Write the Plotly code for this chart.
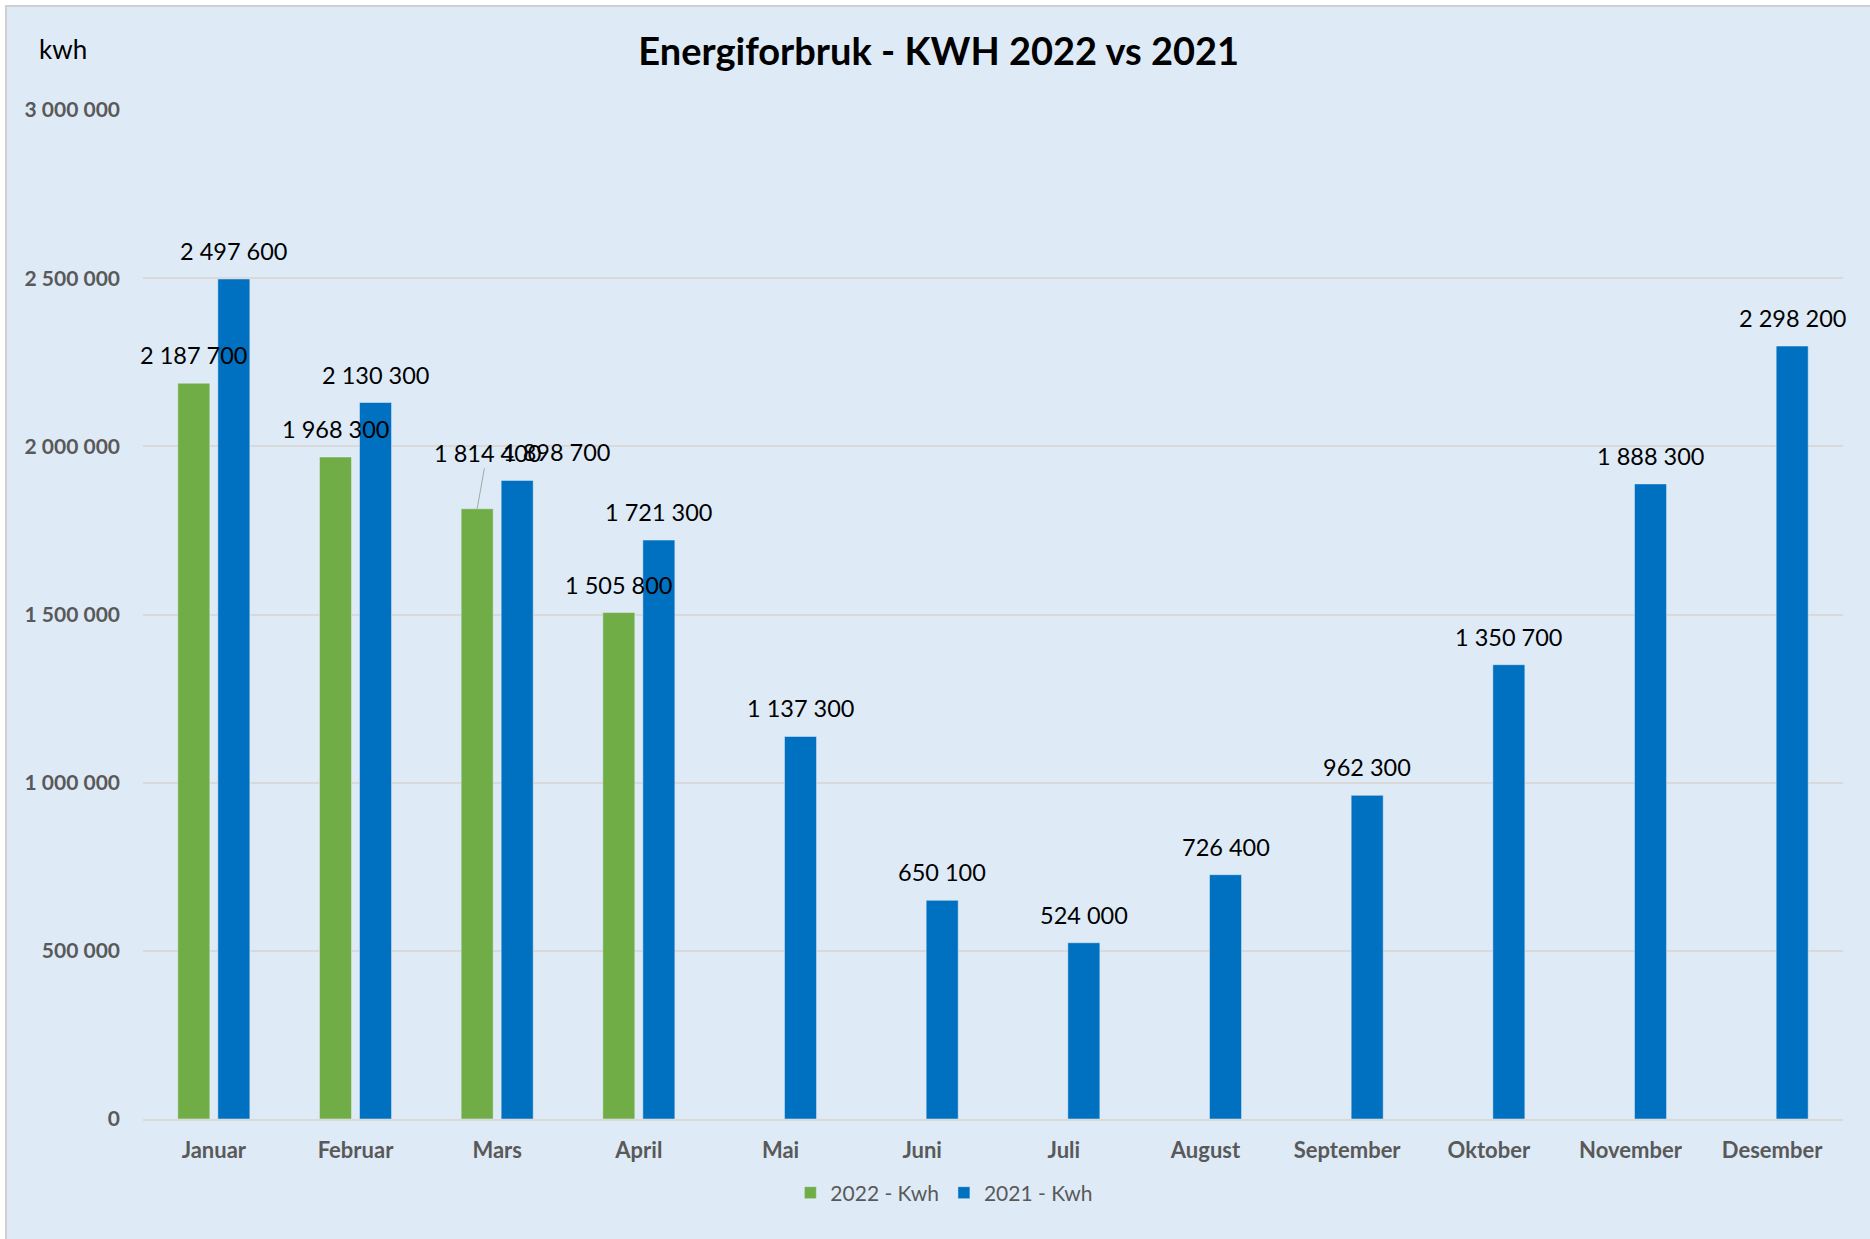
import plotly.graph_objects as go

months = ["Januar", "Februar", "Mars", "April", "Mai", "Juni", "Juli",
          "August", "September", "Oktober", "November", "Desember"]
kwh_2022 = [2187700, 1968300, 1814400, 1505800, None, None, None, None, None, None, None, None]
kwh_2021 = [2497600, 2130300, 1898700, 1721300, 1137300, 650100, 524000,
            726400, 962300, 1350700, 1888300, 2298200]
y_ticks = [0, 500000, 1000000, 1500000, 2000000, 2500000, 3000000]

GREEN = "#70AD47"
BLUE = "#0070C0"
GRAY = "#595959"
BG = "#DEEBF7"
FONT = "Lato"


def fmt(v):
    return f"{v:,}".replace(",", " ")


fig = go.Figure()
fig.add_trace(go.Bar(x=months, y=kwh_2022, name="2022 - Kwh", marker_color=GREEN))
fig.add_trace(go.Bar(x=months, y=kwh_2021, name="2021 - Kwh", marker_color=BLUE))

LBL = dict(family=FONT, size=23.5, color="black")
annotations = []
for m, v in zip(months, kwh_2022):
    if v is None:
        continue
    if m == "Mars":
        annotations.append(dict(x=m, y=v, xref="x", yref="y", text=fmt(v), showarrow=True,
                                arrowhead=0, arrowwidth=1, arrowcolor="#A6A6A6",
                                ax=10, ay=-56, xshift=-20, standoff=0, startstandoff=0,
                                font=LBL))
    else:
        annotations.append(dict(x=m, y=v, xref="x", yref="y", text=fmt(v), showarrow=False,
                                xshift=-20, yshift=28, yanchor="middle", font=LBL))
for m, v in zip(months, kwh_2021):
    xs = 20 + (39 if m == "Mars" else 0)
    annotations.append(dict(x=m, y=v, xref="x", yref="y", text=fmt(v), showarrow=False,
                            xshift=xs, yshift=28, yanchor="middle", font=LBL))

annotations.append(dict(x=-0.047, y=1.0605, xref="paper", yref="paper", text="kwh",
                        showarrow=False, xanchor="center", yanchor="middle",
                        font=dict(family=FONT, size=26, color="black")))

fig.update_layout(
    width=1870, height=1239, autosize=False,
    margin=dict(l=143, r=27, t=110, b=120, autoexpand=False),
    paper_bgcolor="white",
    plot_bgcolor="rgba(0,0,0,0)",
    separators=", ",
    barmode="group",
    bargap=0.435,
    bargroupgap=0.2,
    title=dict(text="Energiforbruk - KWH 2022 vs 2021", xref="container", x=0.502,
               xanchor="center", yref="container", y=1 - 52 / 1239, yanchor="middle",
               font=dict(family=FONT, size=38, color="black", weight="bold")),
    legend=dict(orientation="h", xref="container", yref="container", x=0.505,
                xanchor="center", y=1 - 1193 / 1239, yanchor="middle",
                font=dict(family=FONT, size=21, color=GRAY), bgcolor="rgba(0,0,0,0)"),
    xaxis=dict(range=[-0.5, len(months) - 0.5], showgrid=False, showline=True,
               linecolor="#D9D9D9", linewidth=2,
               ticks="", ticklabelstandoff=11, automargin=False,
               tickfont=dict(family=FONT, size=22, color=GRAY, weight="bold")),
    yaxis=dict(range=[0, 3000000], tickvals=y_ticks, tickformat=",d",
               showgrid=True, gridcolor="#D9D9D9", gridwidth=1.5, zeroline=False,
               showline=False, ticks="", ticklabelstandoff=22, automargin=False,
               tickfont=dict(family=FONT, size=21, color=GRAY, weight="bold")),
    annotations=annotations,
    shapes=[dict(type="rect", xref="paper", yref="paper", x0=-0.0806, x1=1.1, y0=-0.3,
                 y1=1.103, fillcolor=BG, line=dict(color="#D0D0D0", width=2), layer="below")],
)

fig.write_html("out.html", config={"displayModeBar": False},
               post_script="document.body.style.margin='0';")
